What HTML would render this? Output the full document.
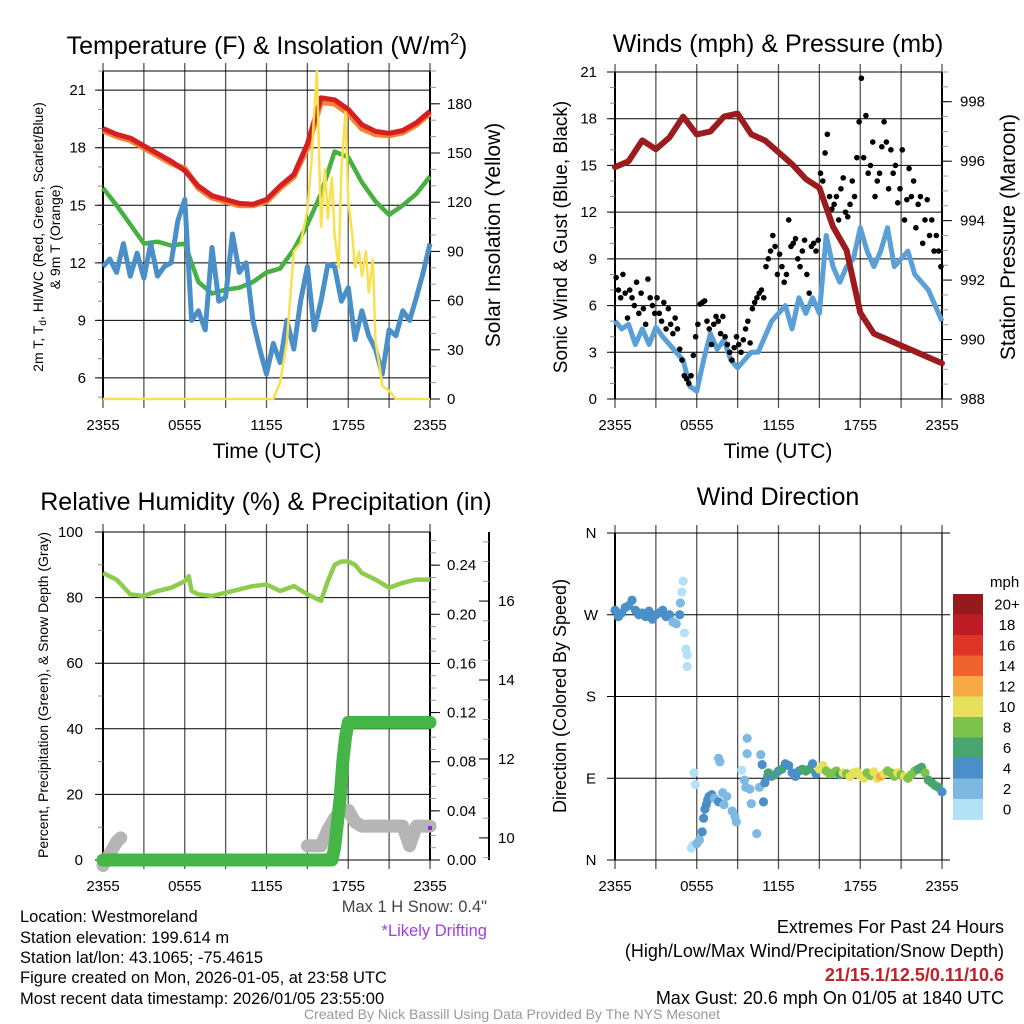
<!DOCTYPE html>
<html><head><meta charset="utf-8"><style>
html,body{margin:0;padding:0;background:#fff;}
svg{display:block;font-family:"Liberation Sans",Arial,sans-serif;}
</style></head><body>
<svg id="chart" width="1024" height="1024" viewBox="0 0 1024 1024" xmlns="http://www.w3.org/2000/svg">
<rect width="1024" height="1024" fill="#fff"/>
<g id="layer"></g>
<!-- Titles -->
<text x="267" y="54" font-size="25" text-anchor="middle">Temperature (F) &amp; Insolation (W/m<tspan font-size="16" dy="-10">2</tspan><tspan dy="10">)</tspan></text>
<text x="778" y="52" font-size="25" text-anchor="middle">Winds (mph) &amp; Pressure (mb)</text>
<text x="266" y="510" font-size="25" text-anchor="middle">Relative Humidity (%) &amp; Precipitation (in)</text>
<text x="778" y="505" font-size="25" text-anchor="middle">Wind Direction</text>
<!-- axis titles -->
<text x="267" y="458" font-size="21" text-anchor="middle">Time (UTC)</text>
<text x="778" y="458" font-size="21" text-anchor="middle">Time (UTC)</text>
<text transform="translate(43,237) rotate(-90)" font-size="14" text-anchor="middle">2m T, T<tspan font-size="10" dy="3">d</tspan><tspan dy="-3">, HI/WC (Red, Green, Scarlet/Blue)</tspan></text>
<text transform="translate(60,237) rotate(-90)" font-size="14" text-anchor="middle">&amp; 9m T (Orange)</text>
<text transform="translate(500,235) rotate(-90)" font-size="21" text-anchor="middle">Solar Insolation (Yellow)</text>
<text transform="translate(567,237) rotate(-90)" font-size="19" text-anchor="middle">Sonic Wind &amp; Gust (Blue, Black)</text>
<text transform="translate(1015,237) rotate(-90)" font-size="21" text-anchor="middle">Station Pressure (Maroon)</text>
<text transform="translate(48,695) rotate(-90)" font-size="14" text-anchor="middle">Percent, Precipitation (Green), &amp; Snow Depth (Gray)</text>
<text transform="translate(566,696) rotate(-90)" font-size="18" text-anchor="middle">Direction (Colored By Speed)</text>
<text x="990" y="587" font-size="15" text-anchor="start">mph</text>
<!-- footer -->
<g font-size="16.5">
<text x="20" y="922">Location: Westmoreland</text>
<text x="20" y="943">Station elevation: 199.614 m</text>
<text x="20" y="963">Station lat/lon: 43.1065; -75.4615</text>
<text x="20" y="983">Figure created on Mon, 2026-01-05, at 23:58 UTC</text>
<text x="20" y="1004">Most recent data timestamp: 2026/01/05 23:55:00</text>
</g>
<text x="487" y="912" font-size="16.5" fill="#444" text-anchor="end">Max 1 H Snow: 0.4"</text>
<text x="487" y="936" font-size="16.5" fill="#a040e8" text-anchor="end">*Likely Drifting</text>
<g font-size="18" text-anchor="end">
<text x="1004" y="933">Extremes For Past 24 Hours</text>
<text x="1004" y="957">(High/Low/Max Wind/Precipitation/Snow Depth)</text>
<text x="1004" y="981" fill="#c0202a" font-weight="bold">21/15.1/12.5/0.11/10.6</text>
<text x="1004" y="1004">Max Gust: 20.6 mph On 01/05 at 1840 UTC</text>
</g>
<text x="512" y="1019" font-size="14" fill="#999" text-anchor="middle">Created By Nick Bassill Using Data Provided By The NYS Mesonet</text>
</svg>
<script>
// ---------- data ----------
const timeTickLabels = ["2355","0555","1155","1755","2355"];
const tempRed = [19.0,18.7,18.5,18.1,17.7,17.3,16.8,16.0,15.5,15.3,15.1,15.05,15.3,16.0,16.6,18.2,20.6,20.5,20.0,19.2,18.85,18.75,18.9,19.3,19.9];
const temp9mOrange = [18.9,18.6,18.4,18.0,17.6,17.2,16.9,15.9,15.4,15.2,15.0,15.0,15.2,15.9,16.5,18.0,20.4,20.3,19.8,19.0,18.7,18.65,18.8,19.2,19.8];
const greenHiWc = [15.9,15.0,14.0,13.0,13.1,12.9,13.0,11.0,10.4,10.6,10.7,11.0,11.5,11.7,12.7,14.0,15.6,17.8,17.5,16.2,15.2,14.5,15.0,15.6,16.5];
const dewBlue = [11.8,12.2,11.5,13.0,11.3,12.5,11.2,13.0,11.3,11.8,12.0,14.2,15.3,9.0,9.5,8.5,12.8,10.0,10.2,13.5,11.5,12.0,9.0,7.5,6.2,7.8,6.8,9.0,7.5,10.0,11.8,8.5,10.0,11.9,11.8,10.0,10.7,8.0,9.5,8.2,7.5,6.2,8.5,8.2,9.5,9.0,10.2,11.5,13.0];
const solarTimes = [0,12.5,13,13.5,14,14.5,15,15.3,15.5,15.7,16,16.3,16.5,16.8,17,17.3,17.5,17.8,18,18.3,18.5,18.8,19,19.3,19.5,19.8,20,20.3,20.5,21,21.5,24];
const solarVals = [0,0,10,35,90,95,115,145,175,200,105,140,110,135,100,80,140,175,120,100,80,90,75,90,65,85,35,20,8,5,0,0];
const tempTicks = [6,9,12,15,18,21];
const solarTicks = [0,30,60,90,120,150,180];

const windBlue = [5.0,4.5,4.8,3.5,4.5,3.5,4.6,4.0,3.5,3.0,2.5,0.8,0.5,2.5,4.2,3.2,3.8,2.5,2.0,2.5,3.0,3.0,4.0,5.0,5.5,6.0,4.5,6.5,5.5,6.5,5.5,10.5,8.5,7.5,8.5,9.0,11.0,9.5,8.5,9.5,11.0,8.5,9.0,9.5,8.0,7.5,7.0,6.0,5.0];
const gustBlack = [7.8,7.0,6.5,8.0,6.8,5.2, 7.0,6.5,6.0,7.5,5.5,6.8, 5.8,4.8,7.7,6.5,6.0,5.5, 6.5,5.5,5.0,6.2,4.5,5.8, 4.8,4.2,5.2,4.5,3.2,2.5, 1.5,1.3,1.0,1.5,2.8,4.0, 4.8,6.1,6.2,6.3,5.0,4.5, 3.5,4.8,5.3,5.0,4.2,5.3, 4.0,3.5,3.0,2.5,3.3,4.0, 3.5,3.0,3.8,4.5,5.0,3.6, 5.8,6.2,6.5,6.8,7.0,6.5, 8.5,9.0,9.5,10.5,9.8,8.0, 9.3,8.5,7.5,8.0,11.5,9.8, 10.0,10.3,9.0,8.5,9.5,10.2, 8.0,6.8,9.8,10.0,9.5,10.2, 14.5,14.0,15.8,17.0,13.0,12.2, 12.5,13.0,11.5,13.5,14.2,12.0, 11.7,12.5,14.0,13.0,15.5,17.8, 20.6,15.5,18.2,14.5,15.0,16.5, 13.0,14.0,14.5,16.2,17.8,16.5, 13.5,16.0,14.5,15.0,12.6,13.5, 16.0,11.5,12.8,14.8,13.0,14.0, 11.0,12.5,13.0,10.0,11.5,12.8, 10.5,11.5,9.5,10.5,9.5,8.5];
const pressureMaroon = [995.8,996.0,996.7,996.4,996.8,997.5,996.9,997.0,997.5,997.6,996.9,996.7,996.3,995.9,995.4,995.1,993.8,993.0,990.9,990.2,990.0,989.8,989.6,989.4,989.2];
const windTicks = [0,3,6,9,12,15,18,21];
const pressureTicks = [988,990,992,994,996,998];

const rhTimes = [0,1,2,3,4,5,6,6.3,6.5,7,8,9,10,11,12,13,14,15,16,16.5,17,17.5,18,18.5,19,20,21,22,23,24];
const rhVals = [87.5,85.5,81,80.5,82,83,85,86.5,82,81,80.5,81.5,82.5,83.5,84,82,83.5,81,79,85,90,91,91,90,87.5,85.5,83,84.5,85.5,85.5];
const precipTimes = [0,16.8,17,17.2,17.4,17.6,17.8,18,24];
const precipVals = [0,0,0.01,0.03,0.05,0.08,0.10,0.112,0.112];
const snowTimes = [0,0.5,1,1.3,null,15,16,16.5,17,17.5,18,18.5,19,20,21,22,22.5,23,24];
const snowVals = [9.3,9.6,9.9,10.0,null,9.8,9.8,10.2,10.5,10.7,10.7,10.4,10.3,10.3,10.3,10.3,9.8,10.3,10.3];
const rhTicks = [0,20,40,60,80,100];
const precipTicks = [0,0.04,0.08,0.12,0.16,0.20,0.24];
const snowTicks = [10,12,14,16];

const dirTimes = [0,0.25,0.5,0.75,1,1.25,1.5,1.75,2,2.25,2.5,2.75,3,3.25,3.5,3.75,4,4.25,4.5,4.75,
 4.8,4.9,5.0,5.1,5.2,5.3,5.3,5.6,5.7,5.8,5.9,6.0,6.2,6.4,6.5,6.6,6.7,6.8,6.9,7.1,7.3,7.6,7.6,7.7,7.9,8.0,8.2,8.6,8.8,8.9,
 9.3,9.5,9.6,9.7,9.7,9.9,10.0,10.4,10.7,10.8,10.6,10.9,11.0,11.2,
 11.25,11.5,11.75,12,12.25,12.5,12.75,13,13.25,13.5,13.75,14,14.25,14.5,14.75,15,15.25,15.5,15.75,16,16.25,16.5,16.75,17,17.25,17.5,17.75,18,18.25,18.5,18.75,19,19.25,19.5,19.75,20,20.25,20.5,20.75,21,21.25,21.5,21.75,22,22.25,22.5,22.75,23,23.25,23.5,23.75,24];
const dirVals = [275,268,272,278,280,286,275,270,272,268,274,265,270,272,275,268,270,262,260,270,
 283,295,307,250,232,226,213,13,16,96,83,18,22,31,46,56,61,66,70,72,68,64,112,108,74,61,70,54,48,42,
 99,88,80,134,117,78,62,29,116,105,80,64,85,92,
 96,92,94,98,100,106,104,96,92,98,100,98,100,106,95,100,104,98,95,96,98,94,96,95,92,96,97,93,90,96,93,97,90,92,95,98,96,92,96,94,92,90,94,98,100,102,96,88,85,82,80,75];
const dirSpeeds = [4,4,4,4,4,5,4,4,5,4,4,4,5,4,4,4,4,3,3,4,
 2,1,0.5,1,1,1,1,0.5,1,1,1,2,3,4,4,4,4,4,4,4,3,4,3,3,3,3,3,3,3,3,
 1,3,3,3,3,3,3,3,3,4,3,4,4,5,
 6,5,6,5,6,5,5,5,5,5,6,6,7,5,5,10,10,9,8,9,9,7,10,8,10,11,10,10,10,9,8,10,10,13,10,9,8,9,10,8,10,9,9,8,7,7,8,7,6,6,6,4];
const dirTicks = [0,90,180,270,360];
const dirTickLabels = ["N","E","S","W","N"];
const speedBins = ["0","2","4","6","8","10","12","14","16","18","20+"];
const speedColors = ["#b3e2f7","#7db9e3","#4a8fc7","#46a66e","#7dc24b","#e6e05a","#f6a945","#f0622d","#df3528","#bd1c25","#941a1c"];

// ---------- helpers ----------
const NS = "http://www.w3.org/2000/svg";
const root = document.getElementById("layer");
function mk(tag, attrs, parent) {
  const e = document.createElementNS(NS, tag);
  for (const k in attrs) e.setAttribute(k, attrs[k]);
  (parent || root).appendChild(e);
  return e;
}
function lin(d0, d1, r0, r1) { return v => r0 + (v - d0) / (d1 - d0) * (r1 - r0); }
function pathD(xs, ys, sx, sy) {
  let d = "", pen = false;
  for (let i = 0; i < xs.length; i++) {
    if (xs[i] === null || ys[i] === null) { pen = false; continue; }
    d += (pen ? "L" : "M") + sx(xs[i]).toFixed(1) + "," + sy(ys[i]).toFixed(1);
    pen = true;
  }
  return d;
}
function frame(P, name) {
  const g = mk("g", {});
  
  
  const sx = lin(0, 24, P.L, P.R);
  for (let h = 0; h <= 24; h += 3) {
    const x = sx(h);
    const ln = mk("line", {x1:x, x2:x, y1:P.T - 8, y2:P.B + 9, stroke:"#555", "stroke-width":1.3}, g);
    
    
  }
  for (let i = 0; i < timeTickLabels.length; i++) {
    const t = mk("text", {x:sx(i * 6), y:P.B + 31, "font-size":15, "text-anchor":"middle"}, g);
    t.textContent = timeTickLabels[i];
    
    
  }
  const box = mk("rect", {x:P.L, y:P.T, width:P.R - P.L, height:P.B - P.T, fill:"none", stroke:"#000", "stroke-width":1}, g);
  
  
  const la = mk("line", {x1:P.L, x2:P.L, y1:P.T, y2:P.B, stroke:"#000", "stroke-width":2}, g);
  
  
  return sx;
}
function leftAxis(P, ticks, sy, labels, minorStep, d0, d1, name) {
  const g = mk("g", {});
  
  
  if (minorStep) for (let v = d0; v <= d1; v += minorStep) {
    const y = sy(v); if (y < P.T - 0.5 || y > P.B + 0.5) continue;
    mk("line", {x1:P.L - 5, x2:P.L, y1:y, y2:y, stroke:"#888", "stroke-width":1}, g);
  }
  ticks.forEach((v, i) => {
    const y = sy(v);
    const gl = mk("line", {x1:P.L - 8, x2:P.R + (P.ext || 0), y1:y, y2:y, stroke:"#000", "stroke-width":1}, g);
    
    
    const t = mk("text", {x:P.labX, y:y + 5, "font-size":15, "text-anchor":P.labAnchor || "end"}, g);
    t.textContent = labels ? labels[i] : v;
    
    
  });
}
function rightAxis(x, T, B, ticks, sy, fmt, minorStep, d0, d1, labX, name, dir) {
  const g = mk("g", {});
  
  
  mk("line", {x1:x, x2:x, y1:T, y2:B, stroke:"#000", "stroke-width":2}, g);
  const s = dir || 1;
  for (let v = d0; v <= d1 + 1e-9; v += minorStep) {
    const y = sy(v); if (y < T - 0.5 || y > B + 0.5) continue;
    mk("line", {x1:x, x2:x + 6 * s, y1:y, y2:y, stroke:"#999", "stroke-width":1}, g);
  }
  ticks.forEach(v => {
    const y = sy(v);
    mk("line", {x1:x, x2:x + 10 * s, y1:y, y2:y, stroke:"#000", "stroke-width":1}, g);
    const t = mk("text", {x:labX, y:y + 5, "font-size":15, "text-anchor":"start"}, g);
    t.textContent = fmt(v);
    
    
  });
}

// ---------- Panel 1: temperature ----------
const P1 = {L:103, R:430, T:71, B:399, labX:86};
const sx1 = frame(P1, "temperature");
const sy1 = lin(4.9, 22, P1.B, P1.T);
const syS = lin(0, 200, P1.B, P1.T);
leftAxis(P1, tempTicks, sy1, null, 1, 5, 22, "temperature-left-axis");
rightAxis(P1.R, P1.T, P1.B, solarTicks, syS, v => v, 10, 0, 200, 447, "insolation-right-axis");
const hrs = tempRed.map((_, i) => i);
const half = dewBlue.map((_, i) => i / 2);
const l1 = mk("path", {d:pathD(hrs, temp9mOrange, sx1, sy1), fill:"none", stroke:"#f5822f", "stroke-width":6, "stroke-linejoin":"round"});


const l2 = mk("path", {d:pathD(hrs, tempRed, sx1, sy1), fill:"none", stroke:"#d42024", "stroke-width":5, "stroke-linejoin":"round"});


const l3 = mk("path", {d:pathD(hrs, greenHiWc, sx1, sy1), fill:"none", stroke:"#46b040", "stroke-width":4.5, "stroke-linejoin":"round"});


const l4 = mk("path", {d:pathD(half, dewBlue, sx1, sy1), fill:"none", stroke:"#4a8fc8", "stroke-width":5, "stroke-linejoin":"round"});


const l5 = mk("path", {d:pathD(solarTimes, solarVals, sx1, syS), fill:"none", stroke:"#f9e04e", "stroke-width":2.5, "stroke-linejoin":"round"});



// ---------- Panel 2: winds ----------
const P2 = {L:615, R:942, T:72, B:399, labX:597};
const sx2 = frame(P2, "winds");
const sy2 = lin(0, 21, P2.B, P2.T);
const syP = lin(988, 999, P2.B, P2.T);
leftAxis(P2, windTicks, sy2, null, 1, 0, 21, "wind-left-axis");
rightAxis(P2.R, P2.T, P2.B, pressureTicks, syP, v => v, 0.5, 988, 999, 960, "pressure-right-axis");
const l6 = mk("path", {d:pathD(half, windBlue, sx2, sy2), fill:"none", stroke:"#5a9fd6", "stroke-width":5, "stroke-linejoin":"round"});


const gustG = mk("g", {fill:"#000"});


gustBlack.forEach((v, i) => {
  const c = mk("circle", {cx:sx2(i / 6 + 1 / 12), cy:sy2(v), r:2.8}, gustG);
  
  
});
const l7 = mk("path", {d:pathD(hrs, pressureMaroon, sx2, syP), fill:"none", stroke:"#9b1b1e", "stroke-width":6, "stroke-linejoin":"round", "stroke-linecap":"round"});



// ---------- Panel 3: humidity ----------
const P3 = {L:103, R:430, T:532, B:860, labX:83};
const sx3 = frame(P3, "humidity");
const sy3 = lin(0, 100, P3.B, P3.T);
const syR = lin(0, 0.267, P3.B, P3.T);
const syN = lin(9.44, 17.75, P3.B, P3.T);
leftAxis(P3, rhTicks, sy3, null, 10, 0, 100, "humidity-left-axis");
rightAxis(P3.R, P3.T, P3.B, precipTicks, syR, v => v.toFixed(2), 0.01, 0, 0.267, 447, "precip-right-axis");
rightAxis(489, P3.T, P3.B, snowTicks, syN, v => v, 0.5, 9.5, 17.5, 498, "snow-depth-axis", -1);
const l8 = mk("path", {d:pathD(snowTimes, snowVals, sx3, syN), fill:"none", stroke:"#b5b5b5", "stroke-width":13, "stroke-linejoin":"round", "stroke-linecap":"round"});


const l9 = mk("path", {d:pathD(precipTimes, precipVals, sx3, syR), fill:"none", stroke:"#46b548", "stroke-width":13, "stroke-linejoin":"round", "stroke-linecap":"round"});


const l10 = mk("path", {d:pathD(rhTimes, rhVals, sx3, sy3), fill:"none", stroke:"#8fcc4d", "stroke-width":4.5, "stroke-linejoin":"round"});


const pd = mk("rect", {x:sx3(24) - 2, y:syN(10.25) - 2, width:4, height:4, fill:"#8a2be2"});



// ---------- Panel 4: wind direction ----------
const P4 = {L:615, R:942, T:533, B:860, labX:591, labAnchor:"middle", ext:8};
const sx4 = frame(P4, "wind-direction");
const sy4 = lin(0, 360, P4.B, P4.T);
leftAxis(P4, dirTicks, sy4, dirTickLabels, 0, 0, 0, "direction-left-axis");
const dg = mk("g", {});


dirVals.forEach((v, i) => {
  const bin = Math.min(10, Math.floor(dirSpeeds[i] / 2));
  const c = mk("circle", {cx:sx4(dirTimes[i]), cy:sy4(v), r:4.6, fill:speedColors[bin]}, dg);
  
  
});
const cb = mk("g", {});


const cbTop = 594, cbH = 20.5;
for (let i = 0; i < speedBins.length; i++) {
  const k = speedBins.length - 1 - i;
  const y = cbTop + i * cbH;
  const r = mk("rect", {x:953, y:y, width:30, height:cbH + 0.5, fill:speedColors[k]}, cb);
  
  
  const t = mk("text", {x:1007, y:y + cbH / 2 + 5, "font-size":15, "text-anchor":"middle"}, cb);
  t.textContent = speedBins[k];
  
  
}
</script>
</body></html>
